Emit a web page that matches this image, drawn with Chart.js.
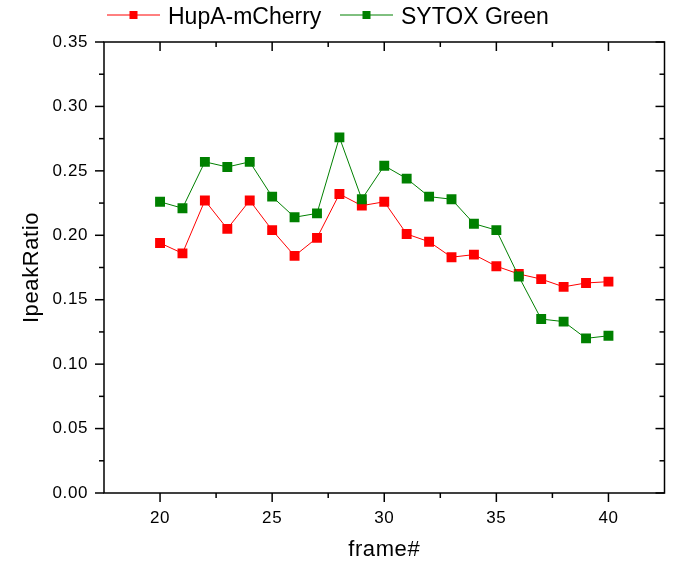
<!DOCTYPE html>
<html>
<head>
<meta charset="utf-8">
<script src="https://cdn.jsdelivr.net/npm/chart.js@4.4.0/dist/chart.umd.min.js"></script>
<style>
  html, body { margin: 0; padding: 0; background: #fff; }
</style>
</head>
<body>
<canvas id="myChart" width="678" height="563"></canvas>
<script>
const frames = [20, 21, 22, 23, 24, 25, 26, 27, 28, 29, 30, 31, 32, 33, 34, 35, 36, 37, 38, 39, 40];
const hupa = [0.194, 0.186, 0.227, 0.205, 0.227, 0.204, 0.184, 0.198, 0.232, 0.223, 0.226,
  0.201, 0.195, 0.183, 0.185, 0.176, 0.170, 0.166, 0.160, 0.163, 0.164];
const sytox = [0.226, 0.221, 0.257, 0.253, 0.257, 0.230, 0.214, 0.217, 0.276, 0.228, 0.254,
  0.244, 0.230, 0.228, 0.209, 0.204, 0.168, 0.135, 0.133, 0.120, 0.122];
const seriesNames = ["HupA-mCherry", "SYTOX Green"];
const xTicks = [20, 25, 30, 35, 40];
const yTicks = [0, 0.05, 0.1, 0.15, 0.2, 0.25, 0.3, 0.35];

const RED = "#ff0000";
const GREEN = "#008000";
const FONT = "'Liberation Sans', Arial, sans-serif";

Chart.defaults.font.family = FONT;
Chart.defaults.color = "#000";

const toPoints = (vals) => frames.map((f, i) => ({ x: f, y: vals[i] }));
const midpoints = (arr) => arr.slice(1).map((v, i) => (v + arr[i]) / 2);

// the original's axis text is a little wider than plain Arial
const wideText = {
  id: "wideText",
  beforeDraw(chart) {
    chart.ctx.letterSpacing = "0.6px";
  },
  afterDatasetsDraw(chart) {
    chart.ctx.letterSpacing = "0px";
  },
};

// box frame with major/minor ticks (out on bottom/left, in on top/right)
const frameTicks = {
  id: "frameTicks",
  afterDraw(chart) {
    const { ctx, chartArea: a, scales: { x, y } } = chart;
    const line = (x1, y1, x2, y2) => {
      ctx.beginPath();
      ctx.moveTo(x1, y1);
      ctx.lineTo(x2, y2);
      ctx.stroke();
    };
    ctx.save();
    ctx.strokeStyle = "#000";
    ctx.lineWidth = 1.5;
    ctx.strokeRect(a.left, a.top, a.right - a.left, a.bottom - a.top);
    const major = 9, minor = 5;
    xTicks.forEach((v) => {
      const px = x.getPixelForValue(v);
      line(px, a.bottom, px, a.bottom + major);
      line(px, a.top, px, a.top + major);
    });
    midpoints(xTicks).forEach((v) => {
      const px = x.getPixelForValue(v);
      line(px, a.bottom, px, a.bottom + minor);
      line(px, a.top, px, a.top + minor);
    });
    yTicks.forEach((v) => {
      const py = y.getPixelForValue(v);
      line(a.left - major, py, a.left, py);
      line(a.right - major, py, a.right, py);
    });
    midpoints(yTicks).forEach((v) => {
      const py = y.getPixelForValue(v);
      line(a.left - minor, py, a.left, py);
      line(a.right - minor, py, a.right, py);
    });
    ctx.restore();
  },
};

// Origin-style legend: short line with a square marker, then the name
const topLegend = {
  id: "topLegend",
  afterDraw(chart) {
    const { ctx } = chart;
    const entries = [
      { x: 107, color: RED },
      { x: 340, color: GREEN },
    ];
    ctx.save();
    ctx.letterSpacing = "0px";
    ctx.font = "23px " + FONT;
    ctx.textBaseline = "alphabetic";
    entries.forEach((e, i) => {
      const cy = 15;
      ctx.strokeStyle = e.color;
      ctx.lineWidth = 1;
      ctx.beginPath();
      ctx.moveTo(e.x, cy);
      ctx.lineTo(e.x + 53, cy);
      ctx.stroke();
      ctx.fillStyle = e.color;
      ctx.fillRect(e.x + 26.5 - 4, cy - 4, 8, 8);
      ctx.fillStyle = "#000";
      ctx.fillText(seriesNames[i], e.x + 61, 23.5);
    });
    ctx.restore();
  },
};

const ctx = document.getElementById("myChart").getContext("2d");
new Chart(ctx, {
  type: "line",
  data: {
    datasets: [
      {
        label: seriesNames[0],
        data: toPoints(hupa),
        borderColor: RED,
        backgroundColor: RED,
        borderWidth: 1,
        pointStyle: "rect",
        pointRadius: 7,
        pointBorderWidth: 0,
        pointBackgroundColor: RED,
        order: 1,
      },
      {
        label: seriesNames[1],
        data: toPoints(sytox),
        borderColor: GREEN,
        backgroundColor: GREEN,
        borderWidth: 1,
        pointStyle: "rect",
        pointRadius: 7,
        pointBorderWidth: 0,
        pointBackgroundColor: GREEN,
        order: 0,
      },
    ],
  },
  options: {
    responsive: false,
    animation: false,
    layout: { padding: { top: 42, right: 13.5, left: 0, bottom: 0 } },
    plugins: {
      legend: { display: false },
      tooltip: { enabled: false },
    },
    scales: {
      x: {
        type: "linear",
        min: 17.5,
        max: 42.5,
        afterBuildTicks: (axis) => {
          axis.ticks = xTicks.map((v) => ({ value: v }));
        },
        afterFit: (s) => { s.height = 70; },
        grid: { display: false, drawTicks: false },
        border: { display: false },
        ticks: { font: { size: 17 }, padding: 15, maxRotation: 0 },
        title: {
          display: true,
          text: "frame#",
          font: { size: 22 },
          padding: { top: 0, bottom: 0 },
        },
      },
      y: {
        min: 0,
        max: 0.35,
        afterBuildTicks: (axis) => {
          axis.ticks = yTicks.map((v) => ({ value: v }));
        },
        afterFit: (s) => { s.width = 104; },
        grid: { display: false, drawTicks: false },
        border: { display: false },
        ticks: {
          font: { size: 17 },
          padding: 16,
          callback: (v) => Number(v).toFixed(2),
        },
        title: {
          display: true,
          text: "IpeakRatio",
          font: { size: 22 },
          padding: { top: 19, bottom: 0 },
        },
      },
    },
  },
  plugins: [wideText, frameTicks, topLegend],
});
</script>
</body>
</html>
